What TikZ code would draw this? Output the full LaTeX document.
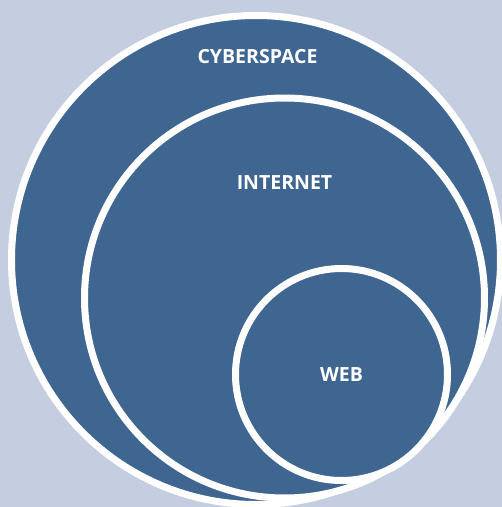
\documentclass[tikz,border=0pt]{standalone}
\usepackage{fontspec}
\setmainfont{Open Sans}
\begin{document}
\begin{tikzpicture}[x=1pt,y=-1pt,
  ring/.style={circle, draw=white, fill=setblue, line width=7pt, inner sep=0pt, minimum size=#1},
  lbl/.style={text=white, font=\fontsize{19.5}{22}\selectfont\bfseries, inner sep=0pt}]
\definecolor{setblue}{RGB}{63,101,145}
\definecolor{pagebg}{RGB}{197,206,224}
% page background and fixed bounds
\fill[pagebg] (0,0) rectangle (502,507);
\useasboundingbox (0,0) rectangle (502,507);
% nested sets
\node[ring=489pt] (cyber) at (256,260) {};
\node[ring=400pt] (inet) at (284.5,298) {};
\node[ring=212pt] (web) at (341.5,374.5) {};
% labels
\node[lbl] (cyberlbl) at (257.5,57) {CYBERSPACE};
\node[lbl] (inetlbl) at (284.5,183) {INTERNET};
\node[lbl] (weblbl) at (341.5,375) {WEB};
\end{tikzpicture}
\end{document}
